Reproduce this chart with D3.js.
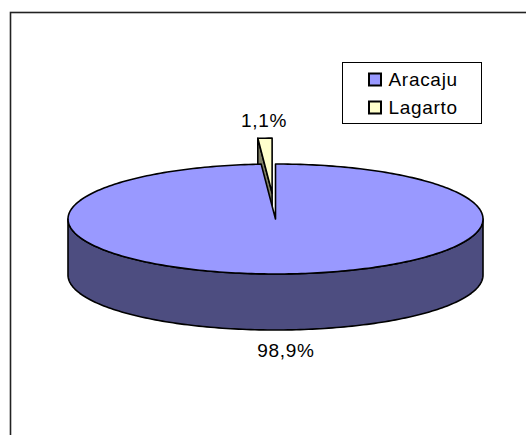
<!DOCTYPE html>
<html lang="pt">
<head>
    <meta charset="UTF-8">
    <title>Pie 3D - Aracaju / Lagarto</title>
    <script src="https://d3js.org/d3.v7.min.js"></script>
    <style>
        body { margin: 0; background: #fff; }
        text { font-family: Arial, "Liberation Sans", sans-serif; letter-spacing: 0.7px; }
    </style>
</head>
<body>
    <svg id="chart" width="526" height="435"></svg>

    <script>
        // data
        const categories = ["Aracaju", "Lagarto"];
        const values = [98.9, 1.1];
        const labels = ["98,9%", "1,1%"];
        const topColors = ["#9999FF", "#FFFFCC"];
        const sideColors = ["#4D4D80", "#808066"];

        const svg = d3.select("#chart");

        // outer frame (right and bottom edges fall outside the picture)
        svg.append("rect")
            .attr("x", 10.5).attr("y", 12.5)
            .attr("width", 540).attr("height", 450)
            .attr("fill", "#fff")
            .attr("stroke", "#222")
            .attr("stroke-width", 1.6);

        // 3D pie geometry
        const cx = 275.5, cy = 219, rx = 207.5, ry = 55, depth = 56;
        const explode = 0.47;   // Lagarto pulled out, as a fraction of the radius

        const pie = d3.pie().sort(null).value(d => d);
        const arcs = pie(values);

        // angle measured clockwise from 12 o'clock, like d3.pie
        const pt = (a, r, h, off) => [
            cx + off[0] + rx * r * Math.sin(a),
            cy + off[1] - ry * r * Math.cos(a) + h
        ];

        function offsetOf(d, i) {
            if (i !== 1) return [0, 0];
            const mid = (d.startAngle + d.endAngle) / 2;
            return [rx * explode * Math.sin(mid), -ry * explode * Math.cos(mid)];
        }

        function arcPoints(a0, a1, h, off) {
            const n = Math.max(2, Math.ceil(Math.abs(a1 - a0) / 0.02));
            return d3.range(n + 1).map(k => pt(a0 + (a1 - a0) * k / n, 1, h, off));
        }

        const line = d3.line();
        const g = svg.append("g")
            .attr("stroke", "#000")
            .attr("stroke-width", 1.6)
            .attr("stroke-linejoin", "round");

        // Lagarto slice sits behind, draw it first: its radial face, then top
        {
            const i = 1, d = arcs[i], off = offsetOf(d, i);
            const c0 = pt(0, 0, 0, off), c1 = pt(0, 0, depth, off);
            const r0 = pt(d.startAngle, 1, 0, off), r1 = pt(d.startAngle, 1, depth, off);
            g.append("path")
                .attr("d", line([c0, r0, r1, c1]) + "Z")
                .attr("fill", sideColors[i]);
            g.append("path")
                .attr("d", line([c0].concat(arcPoints(d.startAngle, d.endAngle, 0, off))) + "Z")
                .attr("fill", topColors[i]);
        }

        // Aracaju: front side wall, then top face
        {
            const i = 0, d = arcs[i], off = offsetOf(d, i);
            const a0 = Math.max(d.startAngle, Math.PI / 2);
            const a1 = Math.min(d.endAngle, 3 * Math.PI / 2);
            const topArc = arcPoints(a0, a1, 0, off);
            const botArc = arcPoints(a1, a0, depth, off);
            g.append("path")
                .attr("d", line(topArc.concat(botArc)) + "Z")
                .attr("fill", sideColors[i]);
            g.append("path")
                .attr("d", line([pt(0, 0, 0, off)].concat(arcPoints(d.startAngle, d.endAngle, 0, off))) + "Z")
                .attr("fill", topColors[i]);
        }

        // data labels
        svg.append("text")
            .attr("x", 286).attr("y", 357)
            .attr("text-anchor", "middle")
            .attr("font-size", 19)
            .text(labels[0]);
        svg.append("text")
            .attr("x", 264).attr("y", 127)
            .attr("text-anchor", "middle")
            .attr("font-size", 19)
            .text(labels[1]);

        // legend
        const legend = svg.append("g").attr("transform", "translate(342.5,62.5)");
        legend.append("rect")
            .attr("width", 139).attr("height", 61)
            .attr("fill", "#fff")
            .attr("stroke", "#000")
            .attr("stroke-width", 1);
        const item = legend.selectAll("g.item").data(categories)
            .join("g")
            .attr("class", "item")
            .attr("transform", (d, i) => `translate(27,${17 + i * 28})`);
        item.append("rect")
            .attr("x", -0.5).attr("y", -6)
            .attr("width", 12).attr("height", 12)
            .attr("fill", (d, i) => topColors[i])
            .attr("stroke", "#000")
            .attr("stroke-width", 2);
        item.append("text")
            .attr("x", 19).attr("y", 6)
            .attr("font-size", 19)
            .text(d => d);
    </script>
</body>
</html>
